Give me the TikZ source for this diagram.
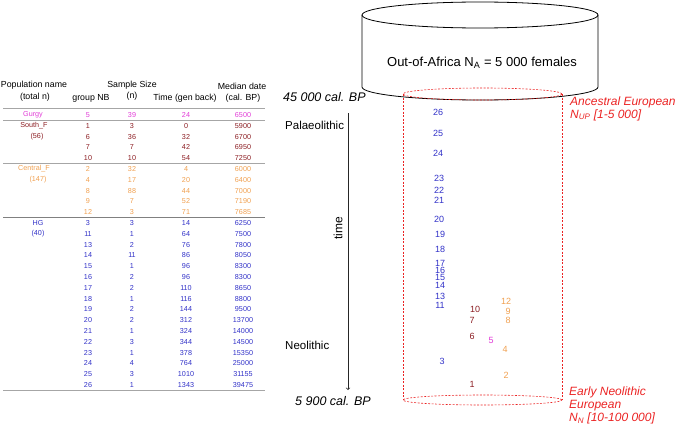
\documentclass[tikz,border=0pt]{standalone}
\usepackage{fontspec}
\setmainfont{Liberation Sans}
\usepackage{tikz}

\definecolor{gurgyc}{RGB}{225,60,215}
\definecolor{southc}{RGB}{140,30,35}
\definecolor{centralc}{RGB}{240,160,80}
\definecolor{hgc}{RGB}{50,50,200}
\definecolor{redc}{RGB}{235,35,35}

\tikzset{
  head/.style={font=\fontsize{8.8}{10}\selectfont, inner sep=0pt},
  cell/.style={font=\fontsize{7.2}{8}\selectfont, inner sep=0pt},
  era/.style={font=\fontsize{11.5}{13}\selectfont, anchor=west, inner sep=0pt},
  bp/.style={font=\fontsize{12.5}{14}\selectfont\itshape, anchor=west, inner sep=0pt},
  redlbl/.style={text=redc, font=\fontsize{12}{13}\selectfont\itshape, align=left, anchor=west, inner sep=0pt},
  gen/.style={font=\fontsize{9}{10}\selectfont, inner sep=0pt},
  redline/.style={redc, dash pattern=on 2pt off 1.5pt, line width=0.6pt},
  rule/.style={gray!70, line width=0.8pt}
}

\begin{document}
\begin{tikzpicture}[x=1pt,y=-1pt]
\useasboundingbox (0,0) rectangle (685,436);

% table header
\node [head] (pop) at (34,85) {Population name};
\node [head] (tot) at (35,97.5) {(total n)};
\node [head] (ssz) at (132,85) {Sample Size};
\node [head] (gnb) at (91,98) {group NB};
\node [head] (nn) at (132,96) {(n)};
\node [head] (tgb) at (185,98) {Time (gen back)};
\node [head] (mdd) at (242,86) {Median date};
\node [head] (cbp) at (243,98) {(cal. BP)};

\draw [rule] (3,108) -- (265,108);
\draw [rule] (3,120.5) -- (265,120.5);
\draw [rule] (3,163.6) -- (265,163.6);
\draw [rule, gray] (3,217.6) -- (265,217.6);
\draw [rule] (3,390.4) -- (265,390.4);

% populations
\node [cell, text=gurgyc] (gurgy) at (33,115) {Gurgy};
\node [cell, text=southc] (south) at (34,125.8) {South\_F};
\node [cell, text=southc] (southn) at (37,136.6) {(56)};
\node [cell, text=centralc] (central) at (34,169) {Central\_F};
\node [cell, text=centralc] (centraln) at (38,179.8) {(147)};
\node [cell, text=hgc] (hg) at (38,223) {HG};
\node [cell, text=hgc] (hgn) at (38,233.8) {(40)};

\foreach \gr/\n/\t/\md [count=\k from 0] in {5/39/24/6500}
{
  \node [cell, text=gurgyc] (nb\gr) at (88,{115+10.8*\k}) {\gr};
  \node [cell, text=gurgyc] (n\gr) at (132,{115+10.8*\k}) {\n};
  \node [cell, text=gurgyc] (t\gr) at (186,{115+10.8*\k}) {\t};
  \node [cell, text=gurgyc] (md\gr) at (243,{115+10.8*\k}) {\md};
}
\foreach \gr/\n/\t/\md [count=\k from 1] in {1/3/0/5900, 6/36/32/6700, 7/7/42/6950, 10/10/54/7250}
{
  \node [cell, text=southc] (nb\gr) at (88,{115+10.8*\k}) {\gr};
  \node [cell, text=southc] (n\gr) at (132,{115+10.8*\k}) {\n};
  \node [cell, text=southc] (t\gr) at (186,{115+10.8*\k}) {\t};
  \node [cell, text=southc] (md\gr) at (243,{115+10.8*\k}) {\md};
}
\foreach \gr/\n/\t/\md [count=\k from 5] in {2/32/4/6000, 4/17/20/6400, 8/88/44/7000, 9/7/52/7190, 12/3/71/7685}
{
  \node [cell, text=centralc] (nb\gr) at (88,{115+10.8*\k}) {\gr};
  \node [cell, text=centralc] (n\gr) at (132,{115+10.8*\k}) {\n};
  \node [cell, text=centralc] (t\gr) at (186,{115+10.8*\k}) {\t};
  \node [cell, text=centralc] (md\gr) at (243,{115+10.8*\k}) {\md};
}
\foreach \gr/\n/\t/\md [count=\k from 10] in {3/3/14/6250, 11/1/64/7500, 13/2/76/7800, 14/11/86/8050, 15/1/96/8300, 16/2/96/8300, 17/2/110/8650, 18/1/116/8800, 19/2/144/9500, 20/2/312/13700, 21/1/324/14000, 22/3/344/14500, 23/1/378/15350, 24/4/764/25000, 25/3/1010/31155, 26/1/1343/39475}
{
  \node [cell, text=hgc] (nb\gr) at (88,{115+10.8*\k}) {\gr};
  \node [cell, text=hgc] (n\gr) at (132,{115+10.8*\k}) {\n};
  \node [cell, text=hgc] (t\gr) at (186,{115+10.8*\k}) {\t};
  \node [cell, text=hgc] (md\gr) at (243,{115+10.8*\k}) {\md};
}

% out of Africa cylinder
\draw [line width=0.8pt] (480,15) ellipse (118pt and 13pt);
\draw [line width=0.8pt] (362,15) -- (362,87) arc[start angle=180, end angle=360, x radius=118pt, y radius=13pt] -- (598,15);
\node [font=\fontsize{13}{15}\selectfont] (oaf) at (482,63) {Out-of-Africa N\textsubscript{A} = 5 000 females};

% European cylinder
\draw [redline] (482.5,94) ellipse (79.5pt and 6pt);
\draw [redline] (403,94) -- (403,400);
\draw [redline] (562,94) -- (562,400);
\draw [redline] (482.5,400) ellipse (79.5pt and 5pt);

\node [redlbl] (anc) at (570,108.5) {Ancestral European\\N\textsubscript{UP} [1-5 000]};
\node [redlbl] (eneo) at (569,405.5) {Early Neolithic\\European\\N\textsubscript{N} [10-100 000]};

% time axis
\node [bp] (bp45) at (283,97) {45 000 cal. BP};
\node [bp] (bp59) at (295,401) {5 900 cal. BP};
\node [era] (pal) at (285,125) {Palaeolithic};
\node [era] (neo) at (285,345) {Neolithic};
\coordinate (tTop) at (348,113);
\coordinate (tBot) at (348,390);
\draw [->, gray!30!black, line width=0.7pt] (tTop) -- (tBot);
\node [font=\fontsize{12}{13}\selectfont, rotate=90, inner sep=0pt] (tm) at (338,228) {time};

% groups in time
\foreach \g/\x/\y in {26/438/112, 25/438/133, 24/438/153, 23/439/178, 22/439/190, 21/439/200, 20/439/219, 19/440/234, 18/440/249, 17/440/263, 16/440/270, 15/440/277, 14/440/285, 13/440/296, 11/440/305, 3/442/361}
  \node [gen, text=hgc] (c\g) at (\x,\y) {\g};
\foreach \g/\x/\y in {10/475/309, 7/472/320, 6/472/336, 1/472/384}
  \node [gen, text=southc] (c\g) at (\x,\y) {\g};
\node [gen, text=gurgyc] (c5) at (491,340) {5};
\foreach \g/\x/\y in {12/506/301, 9/508/311, 8/508/320, 4/505/349, 2/506/375}
  \node [gen, text=centralc] (c\g) at (\x,\y) {\g};

\end{tikzpicture}
\end{document}
